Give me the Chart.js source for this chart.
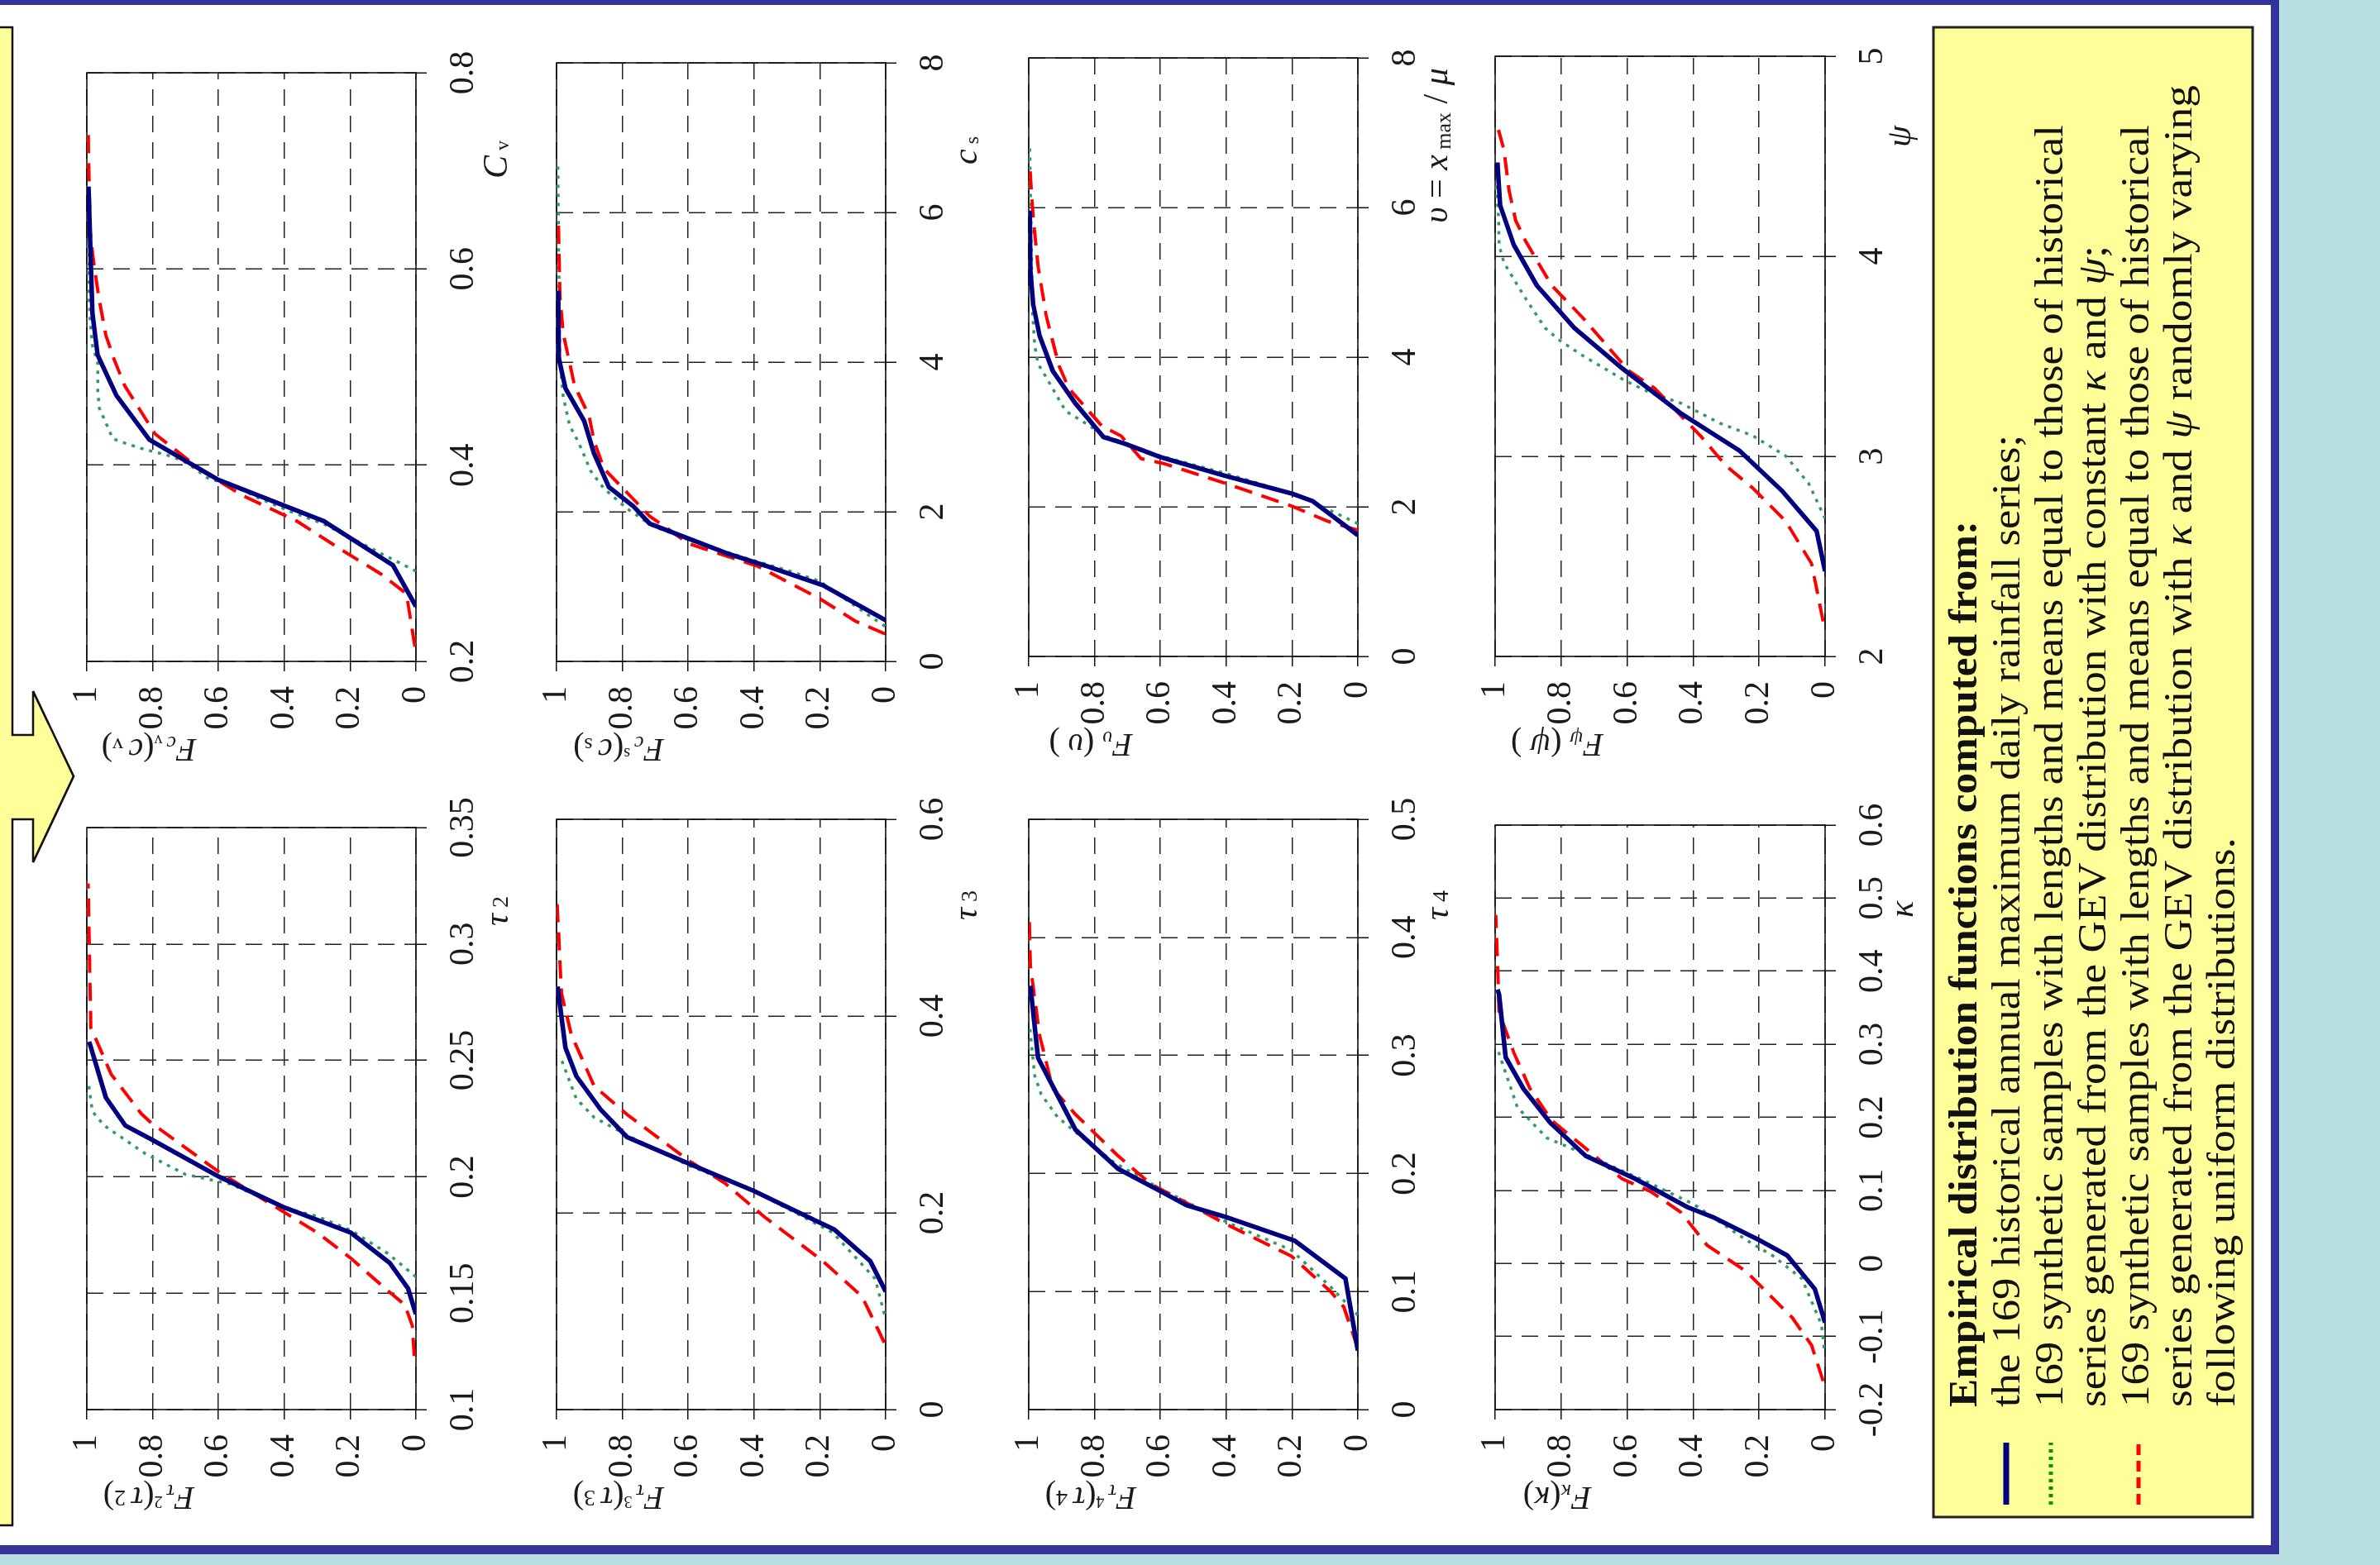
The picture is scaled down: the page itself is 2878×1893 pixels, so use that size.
<!DOCTYPE html>
<html>
<head>
<meta charset="utf-8">
<script src="https://cdn.jsdelivr.net/npm/chart.js@4.4.1/dist/chart.umd.min.js"></script>
<style>
  html, body { margin: 0; padding: 0; }
  body { width: 2878px; height: 1893px; background: #b9dfe2; position: relative; overflow: hidden; }
  #panel { position: absolute; left: 0; top: 0; width: 2746px; height: 1863px; background: #fff;
           border-top: 6px solid #333399; border-right: 10px solid #333399; border-bottom: 11px solid #333399; }
  /* the poster is drawn upright and then turned a quarter turn to the left */
  #rot { position: absolute; left: 0; top: 0; width: 1893px; height: 2878px;
         transform-origin: 0 0; transform: translate(0, 1893px) rotate(-90deg); }
  #rot canvas { position: absolute; }
  #over { position: absolute; left: 0; top: 0; }
</style>
</head>
<body>
<div id="panel"></div>
<div id="rot">
  <canvas id="cvChart"></canvas>
  <canvas id="t2Chart"></canvas>
  <canvas id="csChart"></canvas>
  <canvas id="t3Chart"></canvas>
  <canvas id="upChart"></canvas>
  <canvas id="t4Chart"></canvas>
  <canvas id="psiChart"></canvas>
  <canvas id="kapChart"></canvas>

  <svg id="over" width="1893" height="2878" font-family="Liberation Serif" fill="#1a1a1a">
    <!-- yellow box with arrow at the top -->
    <polygon points="48,-10 48,15 902,15 902,40 850,40 954,89 1057,40 1004,40 1004,15 1860,15 1860,-10"
             fill="#ffff99" stroke="#111" stroke-width="2.5"/>

    <!-- x axis titles -->
    <text x="1700" y="613" text-anchor="middle" font-size="42"><tspan font-style="italic">C</tspan><tspan font-size="24" dy="2"> v</tspan></text>
    <text x="791" y="614" text-anchor="middle" font-size="42"><tspan font-style="italic">τ</tspan><tspan font-size="28"> 2</tspan></text>
    <text x="1711" y="1181" text-anchor="middle" font-size="42"><tspan font-style="italic">c</tspan><tspan font-size="24" dy="2"> s</tspan></text>
    <text x="798" y="1181" text-anchor="middle" font-size="42"><tspan font-style="italic">τ</tspan><tspan font-size="28"> 3</tspan></text>
    <text x="1717" y="1750" text-anchor="middle" font-size="42"><tspan font-style="italic">υ</tspan> = <tspan font-style="italic">x</tspan><tspan font-size="26" dy="4"> max</tspan><tspan dy="-4"> / </tspan><tspan font-style="italic">μ</tspan></text>
    <text x="798" y="1751" text-anchor="middle" font-size="42"><tspan font-style="italic">τ</tspan><tspan font-size="28"> 4</tspan></text>
    <text x="1728" y="2310" text-anchor="middle" font-size="42" font-style="italic">ψ</text>
    <text x="793" y="2313" text-anchor="middle" font-size="42" font-style="italic">κ</text>

    <!-- y axis titles -->
    <text transform="translate(985,180) rotate(-90)" text-anchor="middle" dominant-baseline="central" font-size="40"><tspan font-style="italic">F</tspan><tspan font-style="italic" font-size="26" dy="8">c</tspan><tspan font-size="20" dy="4"> v</tspan><tspan dy="-12">(</tspan><tspan font-style="italic">c</tspan><tspan font-size="26" dy="6"> v</tspan><tspan dy="-6">)</tspan></text>
    <text transform="translate(80,180) rotate(-90)" text-anchor="middle" dominant-baseline="central" font-size="40"><tspan font-style="italic">F</tspan><tspan font-style="italic" font-size="26" dy="8">τ</tspan><tspan font-size="20" dy="-12"> 2</tspan><tspan dy="4">(</tspan><tspan font-style="italic">τ</tspan><tspan font-size="28"> 2</tspan>)</text>
    <text transform="translate(985,748) rotate(-90)" text-anchor="middle" dominant-baseline="central" font-size="40"><tspan font-style="italic">F</tspan><tspan font-style="italic" font-size="26" dy="8">c</tspan><tspan font-size="20" dy="-12"> s</tspan><tspan dy="4">(</tspan><tspan font-style="italic">c</tspan><tspan font-size="26" dy="6"> s</tspan><tspan dy="-6">)</tspan></text>
    <text transform="translate(80,748) rotate(-90)" text-anchor="middle" dominant-baseline="central" font-size="40"><tspan font-style="italic">F</tspan><tspan font-style="italic" font-size="26" dy="8">τ</tspan><tspan font-size="20" dy="-12"> 3</tspan><tspan dy="4">(</tspan><tspan font-style="italic">τ</tspan><tspan font-size="28"> 3</tspan>)</text>
    <text transform="translate(991,1319) rotate(-90)" text-anchor="middle" dominant-baseline="central" font-size="40"><tspan font-style="italic">F</tspan><tspan font-style="italic" font-size="26" dy="8">υ</tspan><tspan dy="-8"> (</tspan><tspan font-style="italic">υ</tspan> )</text>
    <text transform="translate(80,1319) rotate(-90)" text-anchor="middle" dominant-baseline="central" font-size="40"><tspan font-style="italic">F</tspan><tspan font-style="italic" font-size="26" dy="8">τ</tspan><tspan font-size="20" dy="-12"> 4</tspan><tspan dy="4">(</tspan><tspan font-style="italic">τ</tspan><tspan font-size="28"> 4</tspan>)</text>
    <text transform="translate(991,1883) rotate(-90)" text-anchor="middle" dominant-baseline="central" font-size="40"><tspan font-style="italic">F</tspan><tspan font-style="italic" font-size="26" dy="8">ψ</tspan><tspan dy="-8"> (</tspan><tspan font-style="italic">ψ</tspan> )</text>
    <text transform="translate(80,1883) rotate(-90)" text-anchor="middle" dominant-baseline="central" font-size="40"><tspan font-style="italic">F</tspan><tspan font-style="italic" font-size="26" dy="8">κ</tspan><tspan dy="-8">(</tspan><tspan font-style="italic">κ</tspan>)</text>

    <!-- legend box -->
    <rect x="58" y="2338" width="1802" height="386" fill="#ffff99" stroke="#222" stroke-width="3"/>
    <line x1="73" y1="2426" x2="148" y2="2426" stroke="#000080" stroke-width="7"/>
    <line x1="73" y1="2480" x2="148" y2="2480" stroke="#009900" stroke-width="5" stroke-dasharray="4 5"/>
    <line x1="73" y1="2586" x2="148" y2="2586" stroke="#ff0000" stroke-width="5" stroke-dasharray="13 7"/>
    <g font-size="48" fill="#111">
      <text x="191" y="2390" font-weight="bold" textLength="1072" lengthAdjust="spacingAndGlyphs">Empirical distribution functions computed from:</text>
      <text x="191" y="2442" textLength="1176" lengthAdjust="spacingAndGlyphs">the 169 historical annual maximum daily rainfall series;</text>
      <text x="191" y="2494" textLength="1551" lengthAdjust="spacingAndGlyphs">169 synthetic samples with lengths and means equal to those of historical</text>
      <text x="191" y="2546" textLength="1405" lengthAdjust="spacingAndGlyphs">series generated from the GEV distribution with constant <tspan font-style="italic">κ</tspan> and <tspan font-style="italic">ψ</tspan>;</text>
      <text x="191" y="2598" textLength="1551" lengthAdjust="spacingAndGlyphs">169 synthetic samples with lengths and means equal to those of historical</text>
      <text x="191" y="2650" textLength="1599" lengthAdjust="spacingAndGlyphs">series generated from the GEV distribution with <tspan font-style="italic">κ</tspan> and <tspan font-style="italic">ψ</tspan> randomly varying</text>
      <text x="191" y="2702" textLength="689" lengthAdjust="spacingAndGlyphs">following uniform distributions.</text>
    </g>
  </svg>
</div>

<script>
// Empirical distribution values.
// Hist = 169 historical series, Const = GEV with constant kappa and psi,
// Var = GEV with kappa and psi randomly varying.

const fTicks = [0, 0.2, 0.4, 0.6, 0.8, 1];

// C_v
const cvTicks = [0.2, 0.4, 0.6, 0.8];
const cvHistX = [0.256, 0.298, 0.343, 0.385, 0.426, 0.471, 0.512, 0.555, 0.629, 0.684];
const cvHistF = [0, 0.07, 0.28, 0.6, 0.81, 0.91, 0.967, 0.983, 0.99, 0.995];
const cvConstX = [0.292, 0.310, 0.340, 0.353, 0.366, 0.381, 0.386, 0.402, 0.409, 0.417, 0.422, 0.427, 0.443, 0.458, 0.476, 0.504, 0.522, 0.547, 0.568, 0.629];
const cvConstF = [0, 0.106, 0.28, 0.383, 0.475, 0.567, 0.629, 0.695, 0.742, 0.834, 0.88, 0.921, 0.942, 0.962, 0.967, 0.967, 0.983, 0.99, 0.993, 0.996];
const cvVarX = [0.215, 0.269, 0.289, 0.312, 0.343, 0.369, 0.394, 0.432, 0.481, 0.507, 0.532, 0.568, 0.601, 0.637, 0.739];
const cvVarF = [0.003, 0.029, 0.106, 0.218, 0.362, 0.526, 0.649, 0.793, 0.885, 0.916, 0.942, 0.962, 0.977, 0.99, 0.996];

// tau_2
const t2Ticks = [0.1, 0.15, 0.2, 0.25, 0.3, 0.35];
const t2HistX = [0.141, 0.152, 0.163, 0.176, 0.187, 0.2, 0.216, 0.222, 0.234, 0.258];
const t2HistF = [0, 0.024, 0.08, 0.198, 0.403, 0.598, 0.803, 0.883, 0.942, 0.993];
const t2ConstX = [0.157, 0.167, 0.177, 0.183, 0.186, 0.197, 0.201, 0.21, 0.218, 0.222, 0.228, 0.241];
const t2ConstF = [0, 0.085, 0.198, 0.3, 0.383, 0.567, 0.7, 0.823, 0.906, 0.947, 0.983, 0.996];
const t2VarX = [0.123, 0.136, 0.145, 0.151, 0.165, 0.176, 0.185, 0.202, 0.223, 0.227, 0.244, 0.259, 0.264, 0.326];
const t2VarF = [0.005, 0.011, 0.034, 0.085, 0.198, 0.3, 0.403, 0.598, 0.803, 0.834, 0.926, 0.972, 0.988, 0.996];

// c_s
const csTicks = [0, 2, 4, 6, 8];
const csHistX = [0.549, 1.018, 1.272, 1.439, 1.64, 1.841, 2.075, 2.33, 2.778, 3.213, 3.648, 4.05, 4.954];
const csHistF = [0, 0.191, 0.36, 0.479, 0.598, 0.717, 0.767, 0.841, 0.886, 0.916, 0.973, 0.993, 0.995];
const csConstX = [0.469, 0.736, 1.071, 1.205, 1.372, 1.607, 1.808, 2.042, 2.31, 2.544, 2.946, 3.147, 3.548, 4.017, 4.82, 6.628];
const csConstF = [0.002, 0.091, 0.2, 0.29, 0.419, 0.588, 0.707, 0.786, 0.856, 0.896, 0.935, 0.96, 0.98, 0.99, 0.992, 0.996];
const csVarX = [0.368, 0.536, 0.837, 1.272, 1.573, 1.941, 2.577, 2.946, 3.28, 3.682, 4.385, 4.887, 5.958];
const csVarF = [0.002, 0.091, 0.2, 0.389, 0.598, 0.717, 0.856, 0.886, 0.901, 0.945, 0.98, 0.99, 0.995];

// tau_3
const t3Ticks = [0, 0.2, 0.4, 0.6];
const t3HistX = [0.12, 0.151, 0.183, 0.19, 0.222, 0.25, 0.277, 0.305, 0.339, 0.368, 0.43];
const t3HistF = [0, 0.047, 0.156, 0.2, 0.399, 0.598, 0.786, 0.866, 0.94, 0.973, 0.997];
const t3ConstX = [0.097, 0.133, 0.18, 0.222, 0.248, 0.279, 0.297, 0.316, 0.36];
const t3ConstF = [0.004, 0.032, 0.161, 0.399, 0.598, 0.786, 0.886, 0.94, 0.99];
const t3VarX = [0.068, 0.115, 0.151, 0.196, 0.23, 0.253, 0.3, 0.329, 0.381, 0.423, 0.514];
const t3VarF = [0.004, 0.072, 0.191, 0.369, 0.488, 0.598, 0.786, 0.886, 0.955, 0.985, 0.998];

// upsilon = x_max / mu
const upTicks = [0, 2, 4, 6, 8];
const upHistX = [1.62, 2.075, 2.176, 2.41, 2.664, 2.845, 2.932, 3.381, 3.816, 4.285, 4.72, 5.155, 5.958];
const upHistF = [0, 0.137, 0.2, 0.4, 0.6, 0.709, 0.773, 0.858, 0.927, 0.967, 0.987, 0.995, 0.997];
const upConstX = [1.774, 2.075, 2.176, 2.444, 2.678, 2.946, 3.146, 3.28, 3.615, 3.916, 4.151, 4.62, 6.828];
const upConstF = [0, 0.142, 0.2, 0.4, 0.6, 0.768, 0.838, 0.888, 0.932, 0.972, 0.982, 0.989, 0.997];
const upVarX = [1.687, 1.807, 2.008, 2.31, 2.577, 2.644, 2.946, 3.08, 3.582, 3.883, 4.552, 5.222, 5.891, 6.226, 6.56];
const upVarF = [0, 0.092, 0.2, 0.4, 0.589, 0.659, 0.719, 0.778, 0.878, 0.908, 0.947, 0.972, 0.987, 0.992, 0.997];

// tau_4
const t4Ticks = [0, 0.1, 0.2, 0.3, 0.4, 0.5];
const t4HistX = [0.05, 0.111, 0.143, 0.163, 0.173, 0.185, 0.204, 0.237, 0.274, 0.298, 0.359];
const t4HistF = [0, 0.038, 0.192, 0.4, 0.52, 0.6, 0.729, 0.858, 0.927, 0.972, 0.995];
const t4ConstX = [0.08, 0.104, 0.135, 0.159, 0.187, 0.209, 0.235, 0.248, 0.267, 0.283, 0.324];
const t4ConstF = [0, 0.083, 0.202, 0.4, 0.6, 0.739, 0.858, 0.913, 0.962, 0.982, 0.997];
const t4VarX = [0.052, 0.087, 0.1, 0.13, 0.157, 0.178, 0.191, 0.215, 0.25, 0.272, 0.317, 0.376, 0.42];
const t4VarF = [0, 0.043, 0.083, 0.202, 0.4, 0.54, 0.629, 0.729, 0.858, 0.927, 0.967, 0.995, 0.999];

// psi
const psiTicks = [2, 3, 4, 5];
const psiHistX = [2.426, 2.627, 2.827, 3.028, 3.215, 3.441, 3.642, 3.855, 4.055, 4.256, 4.469];
const psiHistF = [0, 0.026, 0.13, 0.259, 0.437, 0.616, 0.76, 0.874, 0.943, 0.985, 0.993];
const psiConstX = [2.689, 2.865, 3.003, 3.103, 3.165, 3.266, 3.316, 3.378, 3.504, 3.579, 3.642, 3.805, 3.967, 4.055, 4.206, 4.356];
const psiConstF = [0, 0.05, 0.12, 0.219, 0.318, 0.437, 0.527, 0.606, 0.735, 0.804, 0.849, 0.914, 0.973, 0.988, 0.99, 0.998];
const psiVarX = [2.175, 2.464, 2.677, 2.84, 2.952, 3.103, 3.203, 3.341, 3.429, 3.692, 3.855, 3.98, 4.08, 4.18, 4.33, 4.53, 4.68];
const psiVarF = [0.006, 0.041, 0.12, 0.218, 0.3, 0.378, 0.437, 0.517, 0.596, 0.734, 0.829, 0.874, 0.909, 0.938, 0.958, 0.973, 0.998];

// kappa
const kapTicks = [-0.2, -0.1, 0, 0.1, 0.2, 0.3, 0.4, 0.5, 0.6];
const kapHistX = [-0.081, -0.035, 0.011, 0.032, 0.063, 0.077, 0.116, 0.147, 0.193, 0.239, 0.282, 0.368, 0.375];
const kapHistF = [0, 0.031, 0.115, 0.2, 0.338, 0.417, 0.576, 0.725, 0.834, 0.914, 0.968, 0.988, 0.993];
const kapConstX = [-0.116, -0.084, -0.021, 0.011, 0.032, 0.081, 0.109, 0.147, 0.172, 0.214, 0.274, 0.29];
const kapConstF = [0.003, 0.011, 0.07, 0.16, 0.239, 0.398, 0.527, 0.715, 0.844, 0.933, 0.978, 0.99];
const kapVarX = [-0.161, -0.112, -0.074, -0.011, 0.025, 0.07, 0.098, 0.116, 0.161, 0.196, 0.239, 0.288, 0.344, 0.477];
const kapVarF = [0.006, 0.041, 0.1, 0.239, 0.358, 0.437, 0.527, 0.616, 0.735, 0.829, 0.894, 0.943, 0.988, 0.998];


// Plot frame: a plain box round the chart area, under the curves
const framePlugin = {
    id: 'frame',
    beforeDatasetsDraw(chart) {
        const a = chart.chartArea;
        const ctx = chart.ctx;
        ctx.save();
        ctx.strokeStyle = '#111';
        ctx.lineWidth = 1.6;
        ctx.strokeRect(a.left, a.top, a.right - a.left, a.bottom - a.top);
        ctx.restore();
    }
};

function fmt(v) {
    return String(Math.round(v * 100) / 100);
}

function series(xs, fs, color, width, dash) {
    return {
        data: xs.map((x, i) => ({ x: x, y: fs[i] })),
        borderColor: color,
        backgroundColor: color,
        borderWidth: width,
        borderDash: dash,
        pointRadius: 0,
        showLine: true,
        tension: 0,
        fill: false
    };
}

function axis(ticks, size, fitSide, tickLen, pad) {
    return {
        type: 'linear',
        min: ticks[0],
        max: ticks[ticks.length - 1],
        afterBuildTicks: s => { s.ticks = ticks.map(v => ({ value: v })); },
        afterFit: s => { s[fitSide] = size; },
        ticks: {
            font: { family: 'Liberation Serif', size: 42 },
            color: '#1a1a1a',
            padding: pad,
            maxRotation: 0,
            autoSkip: false,
            callback: v => fmt(v)
        },
        grid: { color: '#222', lineWidth: 1.5, tickLength: tickLen, tickColor: '#111', tickWidth: 1.5 },
        border: { display: false, dash: [20, 12] }
    };
}

// area = chart area in the upright poster: left, right, top, bottom
function makeChart(id, area, xTicks, hx, hf, cx, cf, vx, vf) {
    // padding is wider than the tick labels need, so the chart area lands exactly on area
    const yW = 110, xH = 80, padTop = 60, padRight = 75;
    const canvas = document.getElementById(id);
    canvas.width = area.r - area.l + yW + padRight;
    canvas.height = area.b - area.t + padTop + xH;
    canvas.style.left = (area.l - yW) + 'px';
    canvas.style.top = (area.t - padTop) + 'px';

    return new Chart(canvas, {
        type: 'scatter',
        data: {
            datasets: [
                series(hx, hf, '#000080', 5.5, []),
                series(vx, vf, '#ff0000', 4, [22, 12]),
                series(cx, cf, '#339966', 3.5, [4, 7])
            ]
        },
        options: {
            responsive: false,
            animation: false,
            devicePixelRatio: 1,
            layout: { autoPadding: false, padding: { top: padTop, right: padRight, left: 0, bottom: 0 } },
            plugins: { legend: { display: false }, tooltip: { enabled: false } },
            scales: {
                x: axis(xTicks, xH, 'height', 13, 20),
                y: axis(fTicks, yW, 'width', 12, 18)
            }
        },
        plugins: [framePlugin]
    });
}

makeChart('cvChart',  { l: 1093, r: 1805, t: 105,  b: 503 },  cvTicks,  cvHistX,  cvHistF,  cvConstX,  cvConstF,  cvVarX,  cvVarF);
makeChart('t2Chart',  { l: 188,  r: 892,  t: 105,  b: 503 },  t2Ticks,  t2HistX,  t2HistF,  t2ConstX,  t2ConstF,  t2VarX,  t2VarF);
makeChart('csChart',  { l: 1093, r: 1817, t: 673,  b: 1071 }, csTicks,  csHistX,  csHistF,  csConstX,  csConstF,  csVarX,  csVarF);
makeChart('t3Chart',  { l: 188,  r: 902,  t: 673,  b: 1071 }, t3Ticks,  t3HistX,  t3HistF,  t3ConstX,  t3ConstF,  t3VarX,  t3VarF);
makeChart('upChart',  { l: 1099, r: 1823, t: 1244, b: 1642 }, upTicks,  upHistX,  upHistF,  upConstX,  upConstF,  upVarX,  upVarF);
makeChart('t4Chart',  { l: 188,  r: 902,  t: 1244, b: 1642 }, t4Ticks,  t4HistX,  t4HistF,  t4ConstX,  t4ConstF,  t4VarX,  t4VarF);
makeChart('psiChart', { l: 1099, r: 1825, t: 1808, b: 2207 }, psiTicks, psiHistX, psiHistF, psiConstX, psiConstF, psiVarX, psiVarF);
makeChart('kapChart', { l: 188,  r: 895,  t: 1808, b: 2207 }, kapTicks, kapHistX, kapHistF, kapConstX, kapConstF, kapVarX, kapVarF);
</script>
</body>
</html>
